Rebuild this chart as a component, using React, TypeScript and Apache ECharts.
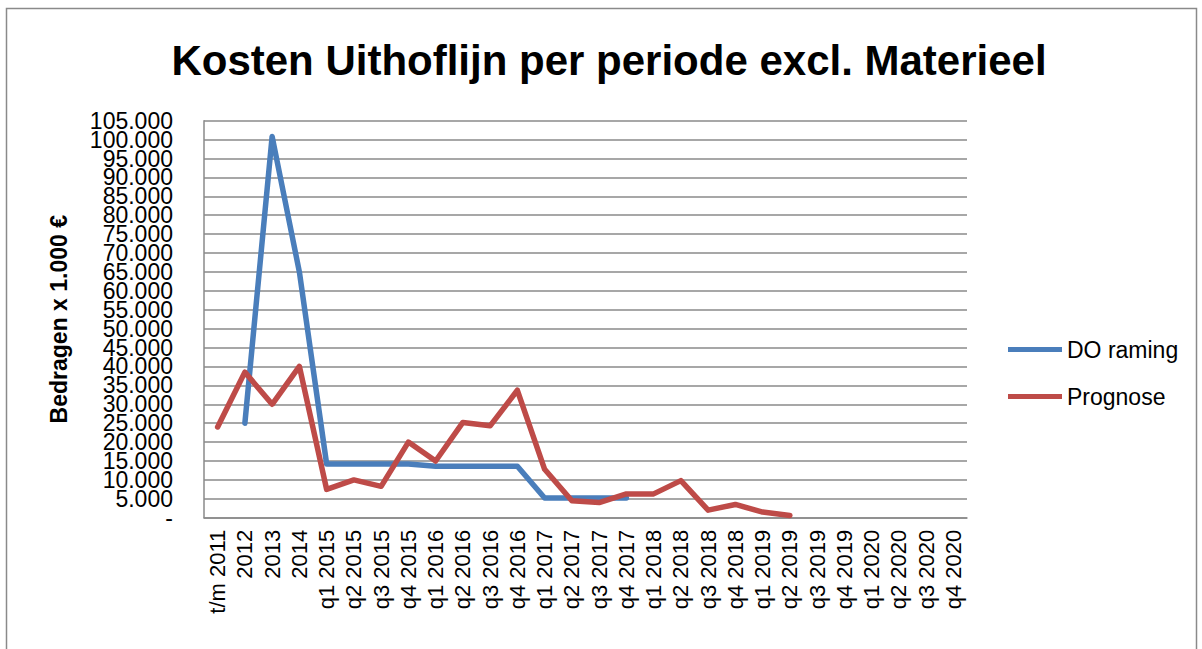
import React, { useEffect, useRef } from "react";
import * as echarts from "echarts";

const categories = [
  "t/m 2011", "2012", "2013", "2014",
  "q1 2015", "q2 2015", "q3 2015", "q4 2015",
  "q1 2016", "q2 2016", "q3 2016", "q4 2016",
  "q1 2017", "q2 2017", "q3 2017", "q4 2017",
  "q1 2018", "q2 2018", "q3 2018", "q4 2018",
  "q1 2019", "q2 2019", "q3 2019", "q4 2019",
  "q1 2020", "q2 2020", "q3 2020", "q4 2020",
];

const doRaming = [
  null, 25000, 100800, 65000,
  14200, 14200, 14200, 14200,
  13600, 13600, 13600, 13600,
  5200, 5200, 5200, 5200,
  null, null, null, null,
  null, null, null, null,
  null, null, null, null,
];

const prognose = [
  24000, 38500, 30000, 40000,
  7500, 10000, 8300, 20000,
  15000, 25200, 24300, 33700,
  12800, 4500, 4000, 6300,
  6300, 9800, 2000, 3500,
  1500, 600, null, null,
  null, null, null, null,
];

const seriesNames = ["DO raming", "Prognose"];
const titleText = "Kosten Uithoflijn per periode excl. Materieel";
const yAxisTitle = "Bedragen x 1.000 €";
const yMin = 0;
const yMax = 105000;
const yStep = 5000;

const FONT = "'Liberation Sans', Arial, sans-serif";
const BLUE = "#4a7ebb";
const RED = "#be4b48";
const GRID = "#8a8a8a";

function fmt(v: number): string {
  if (v === 0) return "-";
  return String(v).replace(/\B(?=(\d{3})+(?!\d))/g, ".");
}

const labelStyle = {
  formatter: (v: number) => fmt(v),
  hideOverlap: false,
  fontFamily: FONT,
  fontSize: 23,
  color: "#000000",
  margin: 31,
  lineHeight: 16,
};

export default function App() {
  const ref = useRef<HTMLDivElement>(null);
  useEffect(() => {
    document.body.style.margin = "0";
    const chart = echarts.init(ref.current!, null, { renderer: "svg" });
    chart.setOption({
      animation: false,
      backgroundColor: "#ffffff",
      title: {
        text: titleText,
        left: 604,
        textAlign: "center",
        top: 34,
        textStyle: {
          fontFamily: FONT,
          fontWeight: "bold",
          fontSize: 42,
          color: "#000000",
        },
      },
      graphic: [
        {
          type: "rect",
          shape: { x: 6.5, y: 8.5, width: 1190, height: 700 },
          style: { fill: "none", stroke: GRID, lineWidth: 1.5 },
          silent: true,
        },
      ],
      legend: {
        orient: "vertical",
        left: 1003,
        top: 333,
        icon: "rect",
        itemWidth: 54,
        itemHeight: 5,
        itemGap: 24,
        data: seriesNames,
        textStyle: { fontFamily: FONT, fontSize: 23, color: "#000000", padding: [0, 0, 0, 0] },
      },
      grid: { left: 204, top: 120.7, right: 235, bottom: 131.3, containLabel: false },
      xAxis: {
        type: "category",
        data: categories,
        boundaryGap: true,
        axisLine: { show: true, lineStyle: { color: GRID, width: 1.5 } },
        axisTick: { show: false },
        axisLabel: {
          rotate: 90,
          interval: 0,
          fontFamily: FONT,
          fontSize: 22,
          color: "#000000",
          margin: 12,
        },
      },
      yAxis: [
        {
          type: "value",
          min: yMin,
          max: yMax,
          interval: yStep,
          name: yAxisTitle,
          nameLocation: "middle",
          nameRotate: 90,
          nameGap: 134,
          nameTextStyle: { fontFamily: FONT, fontWeight: "bold", fontSize: 23, color: "#000000" },
          axisLine: { show: true, lineStyle: { color: GRID, width: 1.5 } },
          axisTick: { show: false },
          splitLine: { show: true, lineStyle: { color: GRID, width: 1.5 } },
          axisLabel: { ...labelStyle, showMinLabel: false, showMaxLabel: false },
        },
        {
          type: "value",
          position: "left",
          min: yMin,
          max: yMax,
          interval: yMax - yMin,
          axisLine: { show: false },
          axisTick: { show: false },
          splitLine: { show: false },
          axisLabel: { ...labelStyle, showMinLabel: true, showMaxLabel: true },
        },
      ],
      series: [
        {
          name: seriesNames[0],
          type: "line",
          yAxisIndex: 0,
          data: doRaming,
          symbol: "none",
          connectNulls: false,
          lineStyle: { color: BLUE, width: 5.5, cap: "round", join: "round" },
          itemStyle: { color: BLUE },
        },
        {
          name: seriesNames[1],
          type: "line",
          yAxisIndex: 0,
          data: prognose,
          symbol: "none",
          connectNulls: false,
          lineStyle: { color: RED, width: 5.5, cap: "round", join: "round" },
          itemStyle: { color: RED },
        },
      ],
    });
    return () => chart.dispose();
  }, []);
  return <div ref={ref} style={{ width: 1202, height: 649 }} />;
}
